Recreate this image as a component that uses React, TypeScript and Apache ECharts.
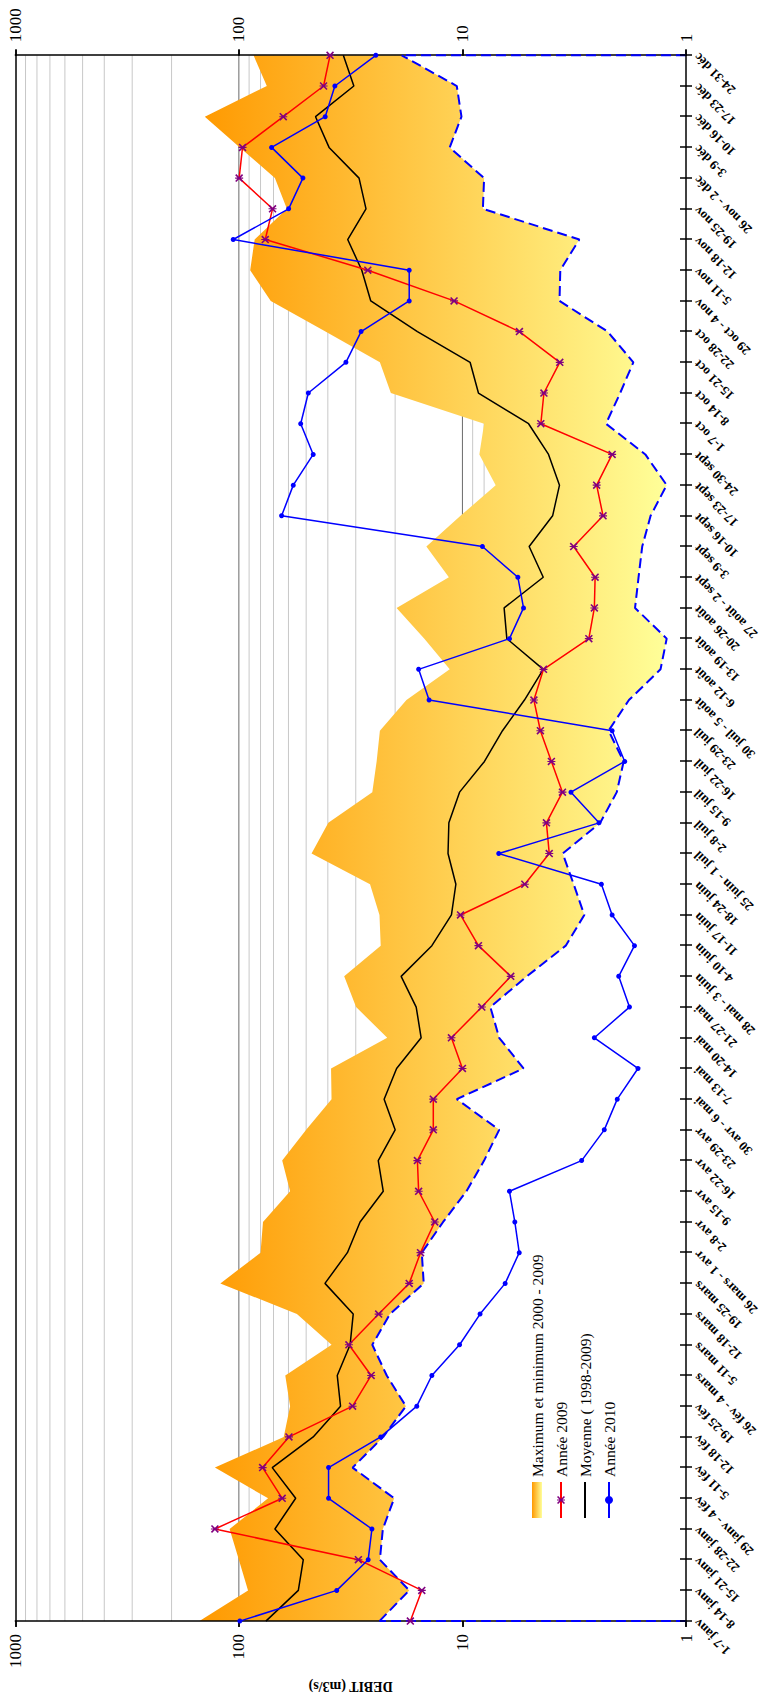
import React, { useEffect, useRef } from "react";
import * as echarts from "echarts";

const categories = [
  "1-7 janv", "8-14 janv", "15-21 janv", "22-28 janv", "29 janv - 4 fév", "5-11 fév", "12-18 fév", "19-25 fév",
  "26 fév - 4 mars", "5-11 mars", "12-18 mars", "19-25 mars", "26 mars - 1 avr", "2-8 avr", "9-15 avr", "16-22 avr",
  "23-29 avr", "30 avr - 6 mai", "7-13 mai", "14-20 mai", "21-27 mai", "28 mai - 3 juin", "4-10 juin", "11-17 juin",
  "18-24 juin", "25 juin - 1 juil", "2-8 juil", "9-15 juil", "16-22 juil", "23-29 juil", "30 juil - 5 août", "6-12 août",
  "13-19 août", "20-26 août", "27 août - 2 sept", "3-9 sept", "10-16 sept", "17-23 sept", "24-30 sept", "1-7 oct",
  "8-14 oct", "15-21 oct", "22-28 oct", "29 oct - 4 nov", "5-11 nov", "12-18 nov", "19-25 nov", "26 nov - 2 déc",
  "3-9 déc", "10-16 déc", "17-23 déc", "24-31 déc",
];

const maxValues = [
  150, 91, 100, 110, 74, 128, 63, 59, 62, 38.5, 55, 121, 80, 78, 59, 64, 50, 38.5, 38.7, 21.7, 29.9, 33.8, 23.2, 23.5,
  25.9, 47.3, 39.8, 25.3, 24.2, 23.4, 17.8, 11.4, 14.8, 19.7, 11.5, 14.5, 10.2, 7.1, 8.4, 8.0, 20.9, 23.4, 41, 72, 89,
  85, 61, 69, 99, 142, 75, 86,
];

const minValues = [
  23.5, 17.3, 23.4, 22.7, 20.2, 31, 22.6, 17.9, 21.8, 25.3, 21.1, 14.9, 15.2, 12.2, 9.6, 8.0, 6.85, 10.6, 5.33, 6.85,
  7.5, 5.15, 3.45, 2.85, 3.18, 3.56, 2.42, 2.04, 1.9, 2.22, 1.8, 1.3, 1.22, 1.69, 1.63, 1.57, 1.44, 1.22, 1.52, 2.28,
  1.97, 1.72, 2.24, 3.68, 3.65, 3.0, 8.1, 8.0, 11.4, 10.1, 10.6, 18.7,
];

const meanValues = [
  75.7, 54.2, 51.5, 69, 55.7, 70.9, 46.5, 35.1, 36.3, 31.8, 30.8, 41.2, 32.7, 28.7, 22.6, 23.8, 20.0, 22.4, 19.7, 15.3,
  16.1, 18.8, 13.7, 11.2, 10.7, 11.6, 11.5, 10.3, 7.97, 6.62, 5.28, 4.35, 6.33, 6.51, 4.35, 5.03, 3.95, 3.68, 4.12, 5.06,
  8.48, 9.24, 15.9, 25.7, 28.2, 32.6, 27.0, 29.0, 39.5, 45.4, 30.6, 34.1,
];

const year2009 = [
  17.1, 15.2, 29.2, 128, 64, 78.3, 59.7, 31, 25.6, 32.2, 23.7, 17.3, 15.4, 13.3, 15.7, 15.9, 13.5, 13.5, 10.0, 11.2,
  8.19, 6.08, 8.48, 10.2, 5.26, 4.09, 4.21, 3.57, 4.0, 4.48, 4.79, 4.34, 2.72, 2.57, 2.55, 3.18, 2.35, 2.51, 2.14, 4.46,
  4.32, 3.67, 5.56, 10.9, 26.5, 76.2, 70.7, 99.7, 96.3, 63.3, 41.8, 39.1,
];

const year2010 = [
  99, 36.5, 26.4, 25.4, 39.7, 39.7, 23.2, 16.0, 13.7, 10.3, 8.34, 6.44, 5.57, 5.83, 6.16, 2.93, 2.32, 2.03, 1.64, 2.57,
  1.79, 2.0, 1.7, 2.14, 2.39, 6.88, 2.45, 3.27, 1.88, 2.14, 14.1, 15.7, 6.16, 5.33, 5.65, 8.14, 64.4, 57.1, 46.5, 52.9,
  48.9, 33.2, 28.4, 17.3, 17.3, 106, 59.9, 51.7, 71.4, 41.1, 37.2, 24.4,
];

const minorGridValues = [2, 3, 4, 5, 6, 7, 8, 9, 20, 30, 40, 50, 60, 70, 80, 90, 200, 300, 400, 500, 600, 700, 800, 900];
const majorGridValues = [10, 100];

const AXIS_MIN = 1;
const AXIS_MAX = 1000;

const W = 1701;
const H = 762;
const GRID = { left: 74.3, right: 55.3, top: 15.3, bottom: 76 };
const FONT = "'Liberation Serif', 'Times New Roman', 'DejaVu Serif', serif";

const ASTERISK =
  "path://M4.3 0H5.7V10H4.3Z M0 1.4L1.4 0L10 8.6L8.6 10Z M8.6 0L10 1.4L1.4 10L0 8.6Z";

export default function App() {
  const ref = useRef<HTMLDivElement>(null);

  useEffect(() => {
    if (!ref.current) return;
    const chart = echarts.init(ref.current, null, { renderer: "svg" });
    const gridW = W - GRID.left - GRID.right;
    const gridH = H - GRID.top - GRID.bottom;
    const lastIdx = categories.length - 1;

    const bandGradient = () =>
      new echarts.graphic.LinearGradient(0, 0, 0, 1, [
        { offset: 0, color: "#FF9900" },
        { offset: 1, color: "#FFFF99" },
      ]);

    const bandValues = maxValues.map((v, i) => v - minValues[i]);
    // end caps of the minimum area: vertical edges at the first and last week
    const minEnds = [
      [0, AXIS_MIN, minValues[0]],
      [lastIdx, AXIS_MIN, minValues[lastIdx]],
    ];

    const gridData = [
      ...minorGridValues.map((v) => [0, v, 0]),
      ...majorGridValues.map((v) => [0, v, 1]),
    ];

    const labelFormatter = (v: number) => String(Math.round(v));
    const black = { color: "#000000", width: 1.5 };

    const valueAxisBase = {
      type: "log" as const,
      logBase: 10,
      min: AXIS_MIN,
      max: AXIS_MAX,
      splitLine: { show: false },
      minorTick: { show: false },
      z: 3,
    };

    const catAxisBase = {
      type: "category" as const,
      data: categories,
      boundaryGap: false,
      splitLine: { show: false },
    };

    const option: any = {
      animation: false,
      color: ["#000000"],
      backgroundColor: "#ffffff",
      textStyle: { fontFamily: FONT },
      grid: {
        left: GRID.left,
        right: GRID.right,
        top: GRID.top,
        bottom: GRID.bottom,
        show: false,
      },
      legend: {
        orient: "vertical",
        left: 177,
        top: 524,
        itemWidth: 36,
        itemHeight: 10,
        itemGap: 8,
        selectedMode: false,
        textStyle: { fontFamily: FONT, fontSize: 15.5, color: "#000", lineHeight: 16 },
        data: [
          { name: "Maximum et minimum 2000 - 2009", icon: "rect", itemStyle: { color: bandGradient() } },
          { name: "Année 2009" },
          { name: "Moyenne ( 1998-2009)", itemStyle: { opacity: 0 } },
          { name: "Année 2010" },
        ],
      },
      xAxis: [
        {
          ...catAxisBase,
          position: "bottom",
          z: 10,
          axisLine: { show: true, onZero: false, lineStyle: black },
          axisTick: { show: true, interval: 0, length: 6, lineStyle: black },
          axisLabel: {
            show: true,
            interval: 0,
            rotate: 45,
            margin: 10,
            fontFamily: FONT,
            fontSize: 13,
            fontWeight: "bold",
            color: "#000",
          },
        },
        {
          ...catAxisBase,
          position: "top",
          offset: -gridH,
          z: 10,
          axisLine: { show: false, onZero: false },
          axisTick: { show: true, interval: 0, length: 6, lineStyle: black },
          axisLabel: { show: false },
        },
        {
          ...catAxisBase,
          position: "top",
          z: 3,
          axisLine: { show: true, onZero: false, lineStyle: black },
          axisTick: { show: false },
          axisLabel: { show: false },
        },
      ],
      yAxis: [
        {
          ...valueAxisBase,
          position: "left",
          name: "DEBIT (m3/s)",
          nameLocation: "middle",
          nameGap: 56,
          nameTextStyle: { fontFamily: FONT, fontSize: 14, fontWeight: "bold", color: "#000" },
          axisLine: { show: true, onZero: false, lineStyle: black },
          axisTick: { show: true, length: 6, lineStyle: black },
          axisLabel: { show: true, margin: 13, fontFamily: FONT, fontSize: 17, color: "#000", formatter: labelFormatter },
        },
        {
          ...valueAxisBase,
          position: "right",
          axisLine: { show: true, onZero: false, lineStyle: black },
          axisTick: { show: true, length: 6, lineStyle: black },
          axisLabel: { show: true, margin: 13, fontFamily: FONT, fontSize: 17, color: "#000", formatter: labelFormatter },
        },
        {
          ...valueAxisBase,
          position: "right",
          offset: -gridW,
          axisLine: { show: false, onZero: false },
          axisTick: { show: true, length: 6, lineStyle: black },
          axisLabel: { show: false },
        },
        {
          ...valueAxisBase,
          position: "left",
          offset: -gridW,
          axisLine: { show: false, onZero: false },
          axisTick: { show: true, length: 6, lineStyle: black },
          axisLabel: { show: false },
        },
      ],
      series: [
        {
          name: "grille",
          type: "custom",
          z: 1,
          silent: true,
          encode: { x: 0, y: 1 },
          itemStyle: { color: "#c8c8c8" },
          data: gridData,
          renderItem: (_params: any, api: any) => {
            const v = api.value(1);
            const major = api.value(2) === 1;
            const p1 = api.coord([0, v]);
            const p2 = api.coord([lastIdx, v]);
            return {
              type: "line",
              shape: { x1: p1[0], y1: p1[1], x2: p2[0], y2: p2[1] },
              style: { stroke: major ? "#6a6a6a" : "#c8c8c8", lineWidth: 1, fill: null },
            };
          },
        },
        {
          name: "min-fond",
          type: "line",
          stack: "band",
          z: 2,
          silent: true,
          symbol: "none",
          data: minValues,
          itemStyle: { color: "#ffffff" },
          lineStyle: { opacity: 0, width: 0, color: "#ffffff" },
          areaStyle: { color: "#ffffff", opacity: 1, origin: "start" },
        },
        {
          name: "Maximum et minimum 2000 - 2009",
          type: "line",
          stack: "band",
          z: 2,
          silent: true,
          symbol: "none",
          data: bandValues,
          itemStyle: { color: "#FFC04D" },
          lineStyle: { opacity: 0, width: 0, color: "#FFC04D" },
          areaStyle: { color: bandGradient(), opacity: 1 },
        },
        {
          name: "min-bord",
          type: "line",
          z: 4,
          silent: true,
          symbol: "none",
          data: minValues,
          itemStyle: { color: "#0000FF" },
          lineStyle: { color: "#0000FF", width: 2, type: [10, 5] },
        },
        {
          name: "min-bord-ends",
          type: "custom",
          z: 4,
          silent: true,
          encode: { x: 0, y: 2 },
          itemStyle: { color: "#0000FF" },
          data: minEnds,
          renderItem: (_params: any, api: any) => {
            const x = api.value(0);
            const p1 = api.coord([x, api.value(1)]);
            const p2 = api.coord([x, api.value(2)]);
            return {
              type: "line",
              shape: { x1: p1[0], y1: p1[1], x2: p2[0], y2: p2[1] },
              style: { stroke: "#0000FF", lineWidth: 2, lineDash: [10, 5], fill: null },
            };
          },
        },
        {
          name: "Moyenne ( 1998-2009)",
          type: "line",
          z: 5,
          symbol: "none",
          data: meanValues,
          itemStyle: { color: "#000000" },
          lineStyle: { color: "#000000", width: 1.5 },
        },
        {
          name: "Année 2009",
          type: "line",
          z: 6,
          symbol: ASTERISK,
          symbolSize: 8,
          showAllSymbol: true,
          data: year2009,
          itemStyle: { color: "#800080" },
          lineStyle: { color: "#FF0000", width: 1.5 },
        },
        {
          name: "Année 2010",
          type: "line",
          z: 7,
          symbol: "circle",
          symbolSize: 5,
          showAllSymbol: true,
          data: year2010,
          itemStyle: { color: "#0000FF" },
          lineStyle: { color: "#0000FF", width: 1.5 },
        },
      ],
    };

    chart.setOption(option);
    return () => {
      chart.dispose();
    };
  }, []);

  return (
    <div
      style={{
        position: "absolute",
        left: 0,
        top: 0,
        width: 762,
        height: 1701,
        overflow: "hidden",
        background: "#ffffff",
      }}
    >
      <div
        ref={ref}
        style={{
          position: "absolute",
          left: 0,
          top: 0,
          width: W,
          height: H,
          transformOrigin: "0 0",
          transform: `translateY(${W}px) rotate(-90deg)`,
        }}
      />
    </div>
  );
}
